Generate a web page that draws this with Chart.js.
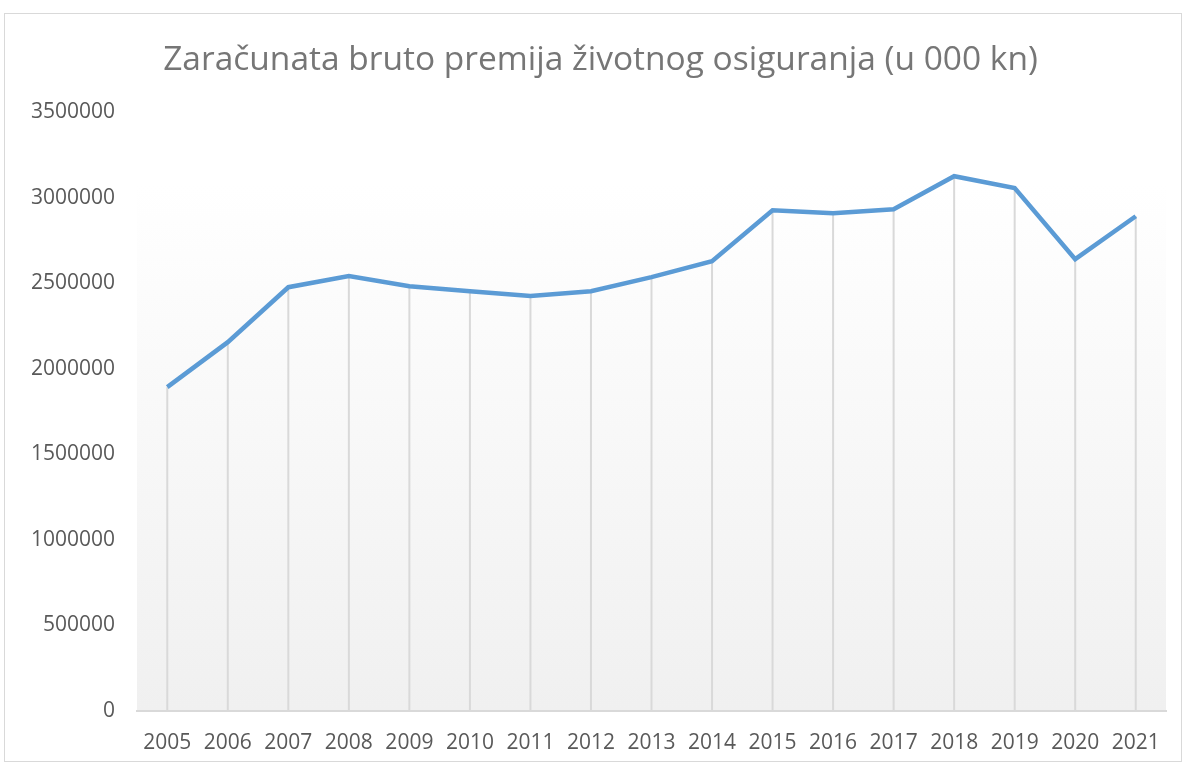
<!DOCTYPE html>
<html>
<head>
<meta charset="utf-8">
<script src="https://cdn.jsdelivr.net/npm/chart.js@4/dist/chart.umd.min.js"></script>
<style>
    html, body { margin: 0; padding: 0; background: #ffffff; }
    #wrap {
        position: absolute;
        left: 4px;
        top: 13px;
        width: 1176px;
        height: 747px;
        border: 1px solid #d9d9d9;
    }
</style>
</head>
<body>
<div id="wrap"><canvas id="lineChart" width="1176" height="747"></canvas></div>
<script>
// years on the x axis
const years = ['2005', '2006', '2007', '2008', '2009', '2010', '2011', '2012', '2013',
    '2014', '2015', '2016', '2017', '2018', '2019', '2020', '2021'];

// gross written premium, life insurance (000 kn)
const premium = [1893000, 2156000, 2477000, 2542000, 2483000, 2454000, 2425000, 2454000,
    2536000, 2629000, 2927000, 2910000, 2933000, 3126000, 3056000, 2641000, 2892000];

// y axis range
const yMin = 0;
const yMax = 3500000;
const yStep = 500000;

// grey gradient behind the plot area
const plotBackground = {
    id: 'plotBackground',
    beforeDraw (chart) {
        const { ctx, chartArea } = chart;
        const grad = ctx.createLinearGradient(0, chartArea.top, 0, chartArea.bottom);
        grad.addColorStop(0, '#ffffff');
        grad.addColorStop(0.12, '#ffffff');
        grad.addColorStop(1, '#f0f0f0');
        ctx.save();
        ctx.fillStyle = grad;
        ctx.fillRect(chartArea.left, chartArea.top, chartArea.right - chartArea.left, chartArea.bottom - chartArea.top);
        ctx.restore();
    }
};

// vertical drop lines from each point to the axis
const dropLines = {
    id: 'dropLines',
    beforeDatasetsDraw (chart) {
        const { ctx, chartArea } = chart;
        const meta = chart.getDatasetMeta(0);
        ctx.save();
        ctx.strokeStyle = '#d9d9d9';
        ctx.lineWidth = 2;
        meta.data.forEach(function (pt) {
            ctx.beginPath();
            ctx.moveTo(pt.x, pt.y);
            ctx.lineTo(pt.x, chartArea.bottom);
            ctx.stroke();
        });
        ctx.restore();
    }
};

// title sits a little right of the canvas centre
const titleShift = {
    id: 'titleShift',
    afterLayout (chart) {
        if (chart.titleBlock) {
            chart.titleBlock.left += 30;
        }
    }
};

const config = {
    type: 'line',
    data: {
        labels: years,
        datasets: [{
            label: 'Zaračunata bruto premija',
            data: premium,
            borderColor: '#5b9bd5',
            borderWidth: 4.5,
            pointRadius: 0,
            tension: 0,
            fill: false
        }]
    },
    options: {
        responsive: false,
        animation: false,
        layout: { padding: { left: 0, right: 15, top: 0, bottom: 0 } },
        plugins: {
            legend: { display: false },
            tooltip: { enabled: false },
            title: {
                display: true,
                text: 'Zaračunata bruto premija životnog osiguranja (u 000 kn)',
                color: '#767676',
                font: { family: 'Open Sans', size: 33.5, weight: 'normal' },
                padding: { top: 26, bottom: 32 }
            }
        },
        scales: {
            x: {
                offset: true,
                grid: { display: false, drawTicks: false },
                border: { display: true, color: '#d9d9d9', width: 2 },
                ticks: {
                    color: '#595959',
                    font: { family: 'Open Sans', size: 21 },
                    padding: 19,
                    maxRotation: 0,
                    autoSkip: false
                },
                afterFit (scale) { scale.height = 50; }
            },
            y: {
                min: yMin,
                max: yMax,
                grid: { display: false, drawTicks: false },
                border: { display: false },
                ticks: {
                    stepSize: yStep,
                    color: '#595959',
                    font: { family: 'Open Sans', size: 21 },
                    padding: 22,
                    callback: function (v) { return String(v); }
                },
                afterFit (scale) { scale.width = 132; }
            }
        }
    },
    plugins: [plotBackground, dropLines, titleShift]
};

const myChart = new Chart(document.getElementById('lineChart'), config);
</script>
</body>
</html>
